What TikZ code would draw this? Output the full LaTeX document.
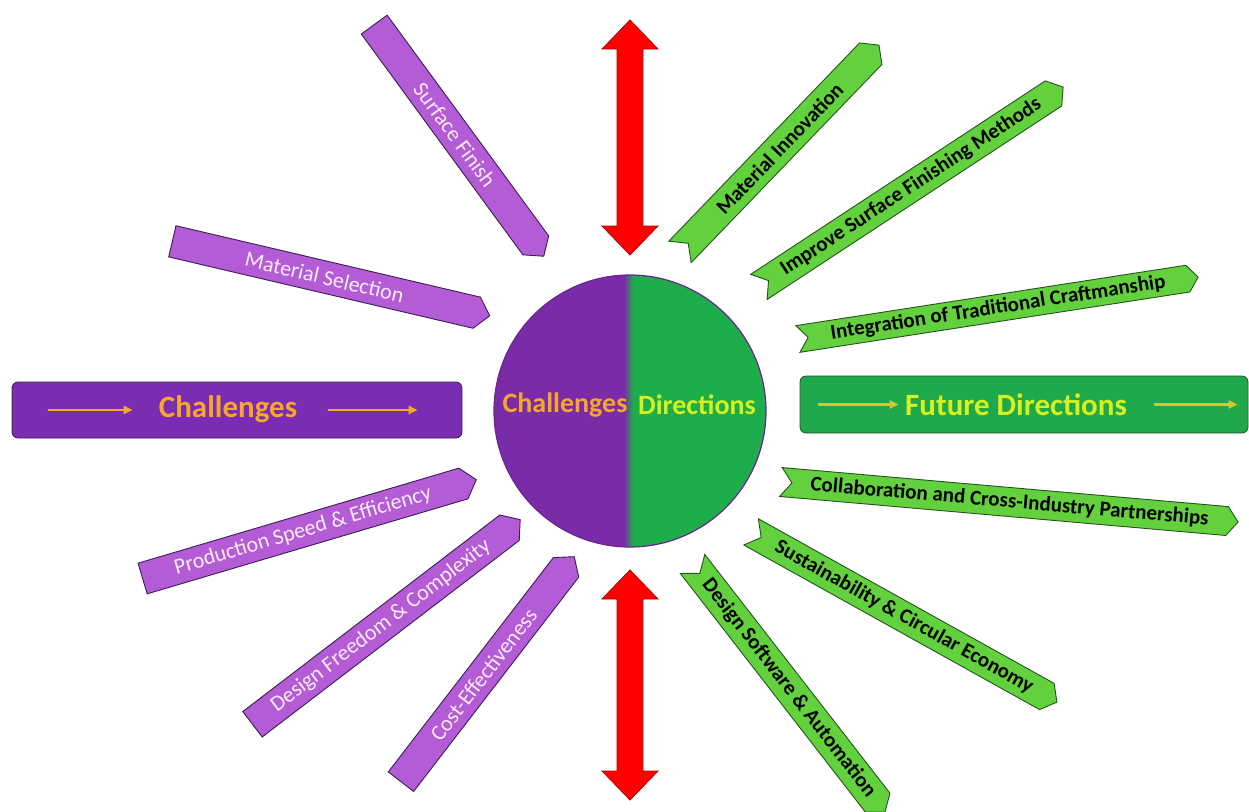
\documentclass[tikz,border=0pt]{standalone}
\usepackage{fontspec}
\setmainfont{Carlito}
\usetikzlibrary{arrows.meta,shapes.symbols}

\definecolor{hubpurple}{HTML}{7A2BA8}
\definecolor{hubgreen}{HTML}{1DAE4B}
\definecolor{splitblue}{HTML}{1F5A86}
\definecolor{boxpurple}{HTML}{7A2DB3}
\definecolor{boxgreen}{HTML}{1FA94C}
\definecolor{chfill}{HTML}{B45CD6}
\definecolor{chline}{HTML}{3B1C55}
\definecolor{chtext}{HTML}{FBEAF8}
\definecolor{difill}{HTML}{63D13D}
\definecolor{diline}{HTML}{24541C}
\definecolor{orangetext}{HTML}{F6A62A}
\definecolor{limetext}{HTML}{D6F21E}
\definecolor{arrowgold}{HTML}{F2AE1E}
\definecolor{arrowyellow}{HTML}{E4C41A}
\definecolor{arrowred}{HTML}{FF0000}

\tikzset{
  hubtext/.style={font=\bfseries\fontsize{28}{28}\selectfont, inner sep=0pt},
  boxtext/.style={font=\bfseries\fontsize{31}{31}\selectfont, inner sep=0pt},
  titlebox/.style={rounded corners=6pt, line width=0.8pt, inner sep=0pt},
  boxarrow/.style={line width=2.2pt, -{Triangle[length=9pt,width=8pt]}},
  chall/.style={signal, signal from=nowhere, signal to=east, signal pointer angle=100,
    fill=chfill, draw=chline, line width=0.9pt, text=chtext, inner sep=0pt,
    minimum height=32pt, font=\fontsize{22}{22}\selectfont},
  direc/.style={signal, signal from=west, signal to=east, signal pointer angle=105,
    fill=difill, draw=diline, line width=0.9pt, text=black, inner sep=0pt,
    font=\bfseries\fontsize{21}{21}\selectfont},
  redarrow/.style={fill=arrowred, draw=red!70!black, line width=0.8pt},
}

\begin{document}
\begin{tikzpicture}[x=1pt, y=-1pt, >=Stealth]
  \useasboundingbox (0,0) rectangle (1249,811);

  % Centre disc
  \node[circle, minimum size=272pt, inner sep=0pt, draw=hubpurple!85!black, line width=1.2pt,
    path picture={
      \fill[hubpurple] (path picture bounding box.south west) rectangle ([xshift=-2pt]path picture bounding box.north);
      \fill[hubgreen] ([xshift=-2pt]path picture bounding box.south) rectangle (path picture bounding box.north east);
      \shade[left color=hubpurple, middle color=splitblue, right color=hubgreen]
        ([xshift=-6pt]path picture bounding box.south) rectangle ([xshift=3pt]path picture bounding box.north);
    }] (hub) at (630,411) {};
  \node[hubtext, text=orangetext] (hubch) at ([xshift=-65pt, yshift=6pt]hub.center) {Challenges};
  \node[hubtext, text=limetext] (hubdi) at ([xshift=67pt, yshift=6pt]hub.center) {Directions};

  % Title boxes
  \node[titlebox, fill=boxpurple, draw=chline, minimum width=450pt, minimum height=56pt] (chbox) at (237,410) {};
  \node[boxtext, text=orangetext] (chtitle) at (228,409) {Challenges};
  \draw[boxarrow, arrowgold] ([xshift=36pt]chbox.west) -- ([xshift=121pt]chbox.west);
  \draw[boxarrow, arrowgold] ([xshift=316pt]chbox.west) -- ([xshift=406pt]chbox.west);

  \node[titlebox, fill=boxgreen, draw=diline, minimum width=448pt, minimum height=57pt] (dibox) at (1024,404.5) {};
  \node[boxtext, text=limetext] (dititle) at (1016,405) {Future Directions};
  \draw[boxarrow, arrowyellow] ([xshift=18pt]dibox.west) -- ([xshift=99pt]dibox.west);
  \draw[boxarrow, arrowyellow] ([xshift=354pt]dibox.west) -- ([xshift=438pt]dibox.west);

  % Red double arrows
  \foreach \ya/\yb in {20/255, 570/800}
    \draw[redarrow] (630,\ya) -- (658,\ya+29) -- (643,\ya+29) -- (643,\yb-29) -- (658,\yb-29)
      -- (630,\yb) -- (602,\yb-29) -- (617,\yb-29) -- (617,\ya+29) -- (602,\ya+29) -- cycle;

  % Challenges arrows
  \node[chall, rotate=-53.8, minimum width=287pt] (surf) at (455,135) {Surface Finish};
  \node[chall, rotate=-13.2, minimum width=326pt] (matsel) at (324.5,277) {Material Selection};
  \node[chall, rotate=16.5, minimum width=348pt] (prod) at (303,531) {Production Speed \& Efficiency};
  \node[chall, rotate=37.4, minimum width=337pt] (dfree) at (381,626) {Design Freedom \& Complexity};
  \node[chall, rotate=52.4, minimum width=284pt] (cost) at (483.5,674.5) {Cost-Effectiveness};

  % Directions arrows
  \node[direc, rotate=46.1, minimum width=287pt, minimum height=31pt] (matinn) at (779.5,148.5) {Material Innovation};
  \node[direc, rotate=33.3, minimum width=364pt, minimum height=30pt] (surfmeth) at (911,187) {Improve Surface Finishing Methods};
  \node[direc, rotate=8.8, minimum width=405pt, minimum height=27pt] (craft) at (998,308) {Integration of Traditional Craftmanship};
  \node[direc, rotate=-5, minimum width=459pt, minimum height=29pt] (collab) at (1009.5,502) {Collaboration and Cross-Industry Partnerships};
  \node[direc, rotate=-29.1, minimum width=350pt, minimum height=30pt] (sustain) at (904,617) {Sustainability \& Circular Economy};
  \node[direc, rotate=-52.2, minimum width=314pt, minimum height=31pt] (dsoft) at (788.75,688) {Design Software \& Automation};
\end{tikzpicture}
\end{document}
